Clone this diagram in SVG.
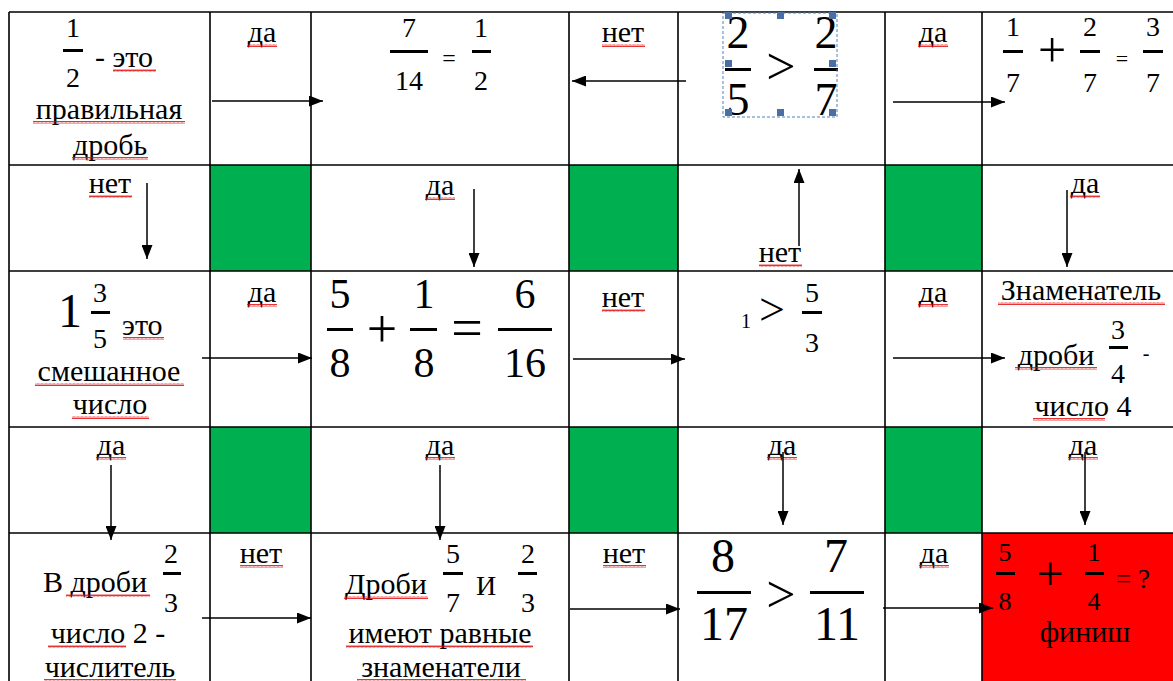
<svg xmlns="http://www.w3.org/2000/svg" width="1173" height="681" viewBox="0 0 1173 681" font-family="Liberation Serif, DejaVu Serif, Times New Roman, serif">
<style>
.t{font-size:30px;fill:#000;text-anchor:middle}
.m{fill:#000;text-anchor:middle}
.s{text-anchor:start}
.grid{stroke:#000;stroke-width:1.6;fill:none}
.conn{stroke:#000;stroke-width:1.5;fill:none;marker-end:url(#ah)}
.bar{fill:#000}
.wv{fill:url(#wave)}
.green{fill:#00B050}
.sel{fill:none;stroke:#4F81BD;stroke-width:1;stroke-dasharray:3 2}
.h{fill:#4A6FA5}
</style>
<defs>
<marker id="ah" markerWidth="14" markerHeight="11" refX="14" refY="5.5" orient="auto" markerUnits="userSpaceOnUse"><path d="M0,0 L14,5.5 L0,11 z" fill="#000"/></marker>
<pattern id="wave" width="4" height="3" patternUnits="userSpaceOnUse"><path d="M0,2.5 L1,0.5 L2,2.5 L3,0.5 L4,2.5" stroke="#E00000" stroke-width="0.8" fill="none"/></pattern>
</defs>
<rect width="1173" height="681" fill="#fff"/>
<g id="fills">
<rect class="green" x="210" y="165" width="101" height="106"/>
<rect class="green" x="569" y="165" width="109" height="106"/>
<rect class="green" x="885" y="165" width="97" height="106"/>
<rect class="green" x="210" y="427" width="101" height="106"/>
<rect class="green" x="569" y="427" width="109" height="106"/>
<rect class="green" x="885" y="427" width="97" height="106"/>
<rect x="982" y="533" width="191" height="148" fill="#FF0000"/>
</g>
<g id="grid" class="grid">
<path d="M9,12 H1173 M9,165 H1173 M9,271 H1173 M9,427 H1173 M9,533 H1173"/>
<path d="M9,12 V681 M210,12 V681 M311,12 V681 M569,12 V681 M678,12 V681 M885,12 V681 M982,12 V681"/>
</g>
<g id="n-r1c1">
<text class="m" x="73" y="37" font-size="28">1</text><rect class="bar" x="63" y="49" width="20" height="3"/><text class="m" x="73" y="87" font-size="28">2</text>
<text class="t s" x="95" y="67">- это</text><rect class="wv" x="113" y="69" width="43" height="3"/>
<text class="t" x="109" y="119">правильная</text><rect class="wv" x="33" y="121" width="152" height="3"/>
<text class="t" x="110" y="155">дробь</text><rect class="wv" x="72" y="157" width="76" height="3"/>
</g>
<g id="n-r1c3">
<text class="m" x="409" y="37" font-size="28">7</text><rect class="bar" x="390" y="50" width="38" height="3"/><text class="m" x="409" y="90" font-size="28">14</text>
<text class="m" x="449" y="66" font-size="24">=</text>
<text class="m" x="481" y="37" font-size="28">1</text><rect class="bar" x="472" y="50" width="19" height="3"/><text class="m" x="481" y="90" font-size="28">2</text>
</g>
<g id="n-r1c5">
<text class="m" x="738" y="48" font-size="46">2</text><rect class="bar" x="725" y="68" width="26" height="3"/><text class="m" x="738" y="115" font-size="46">5</text>
<text class="m" x="781" y="84" font-size="52">&gt;</text>
<text class="m" x="826" y="48" font-size="46">2</text><rect class="bar" x="814" y="68" width="24" height="3"/><text class="m" x="826" y="115" font-size="46">7</text>
<rect class="sel" x="723" y="13" width="114" height="104"/>
<rect class="h" x="725" y="12" width="7" height="7"/><rect class="h" x="777" y="12" width="7" height="7"/><rect class="h" x="829" y="12" width="7" height="7"/>
<rect class="h" x="725" y="60" width="7" height="7"/><rect class="h" x="829" y="60" width="7" height="7"/>
<rect class="h" x="725" y="109" width="7" height="7"/><rect class="h" x="777" y="109" width="7" height="7"/><rect class="h" x="829" y="109" width="7" height="7"/>
</g>
<g id="n-r1c7">
<text class="m" x="1013" y="36" font-size="28">1</text><rect class="bar" x="1003" y="50" width="20" height="3"/><text class="m" x="1013" y="92" font-size="28">7</text>
<text class="m" x="1052" y="67" font-size="50">+</text>
<text class="m" x="1090" y="36" font-size="28">2</text><rect class="bar" x="1080" y="50" width="20" height="3"/><text class="m" x="1090" y="92" font-size="28">7</text>
<text class="m" x="1122" y="66" font-size="22">=</text>
<text class="m" x="1153" y="36" font-size="28">3</text><rect class="bar" x="1143" y="50" width="20" height="3"/><text class="m" x="1153" y="92" font-size="28">7</text>
</g>
<g id="n-r3c1">
<text class="m" x="70" y="327" font-size="48">1</text>
<text class="m" x="100" y="302" font-size="28">3</text><rect class="bar" x="91" y="311" width="19" height="3"/><text class="m" x="100" y="348" font-size="28">5</text>
<text class="t s" x="122" y="335">это</text><rect class="wv" x="123" y="337" width="41" height="3"/>
<text class="t" x="109" y="381">смешанное</text><rect class="wv" x="35" y="383" width="149" height="3"/>
<text class="t" x="110" y="414">число</text><rect class="wv" x="72" y="416" width="77" height="3"/>
</g>
<g id="n-r3c3">
<text class="m" x="340" y="308" font-size="42">5</text><rect class="bar" x="327" y="328" width="26" height="3"/><text class="m" x="340" y="377" font-size="42">8</text>
<text class="m" x="382" y="347" font-size="54">+</text>
<text class="m" x="424" y="308" font-size="42">1</text><rect class="bar" x="410" y="328" width="27" height="3"/><text class="m" x="424" y="377" font-size="42">8</text>
<text class="m" x="467" y="347" font-size="56">=</text>
<text class="m" x="525" y="308" font-size="42">6</text><rect class="bar" x="498" y="328" width="54" height="3"/><text class="m" x="525" y="377" font-size="42">16</text>
</g>
<g id="n-r3c5">
<text class="m" x="746" y="328" font-size="20">1</text>
<text class="m" x="772" y="325" font-size="46">&gt;</text>
<text class="m" x="812" y="302" font-size="28">5</text><rect class="bar" x="802" y="311" width="20" height="3"/><text class="m" x="812" y="352" font-size="28">3</text>
</g>
<g id="n-r3c7">
<text class="t" x="1081" y="300">Знаменатель</text><rect class="wv" x="998" y="302" width="167" height="3"/>
<text class="t" x="1056" y="365">дроби</text><rect class="wv" x="1015" y="367" width="82" height="3"/>
<text class="m" x="1118" y="339" font-size="28">3</text><rect class="bar" x="1109" y="346" width="19" height="3"/><text class="m" x="1118" y="383" font-size="28">4</text>
<text class="m" x="1146" y="360" font-size="20">-</text>
<text class="t" x="1083" y="416">число 4</text><rect class="wv" x="1033" y="418" width="72" height="3"/>
</g>
<g id="n-r5c1">
<text class="t" x="95" y="592">В дроби</text><rect class="wv" x="66" y="594" width="84" height="3"/>
<text class="m" x="171" y="563" font-size="28">2</text><rect class="bar" x="163" y="572" width="18" height="3"/><text class="m" x="171" y="612" font-size="28">3</text>
<text class="t" x="108" y="643">число 2 -</text><rect class="wv" x="48" y="645" width="78" height="3"/>
<text class="t" x="110" y="677">числитель</text><rect class="wv" x="44" y="679" width="132" height="2"/>
</g>
<g id="n-r5c3">
<text class="t" x="386" y="594">Дроби</text><rect class="wv" x="344" y="596" width="84" height="3"/>
<text class="m" x="453" y="563" font-size="28">5</text><rect class="bar" x="443" y="572" width="20" height="3"/><text class="m" x="453" y="612" font-size="28">7</text>
<text class="m" x="486" y="595" font-size="28">И</text>
<text class="m" x="528" y="563" font-size="28">2</text><rect class="bar" x="518" y="572" width="19" height="3"/><text class="m" x="528" y="612" font-size="28">3</text>
<text class="t" x="440" y="643">имеют равные</text><rect class="wv" x="346" y="645" width="187" height="3"/>
<text class="t" x="441" y="677">знаменатели</text><rect class="wv" x="357" y="679" width="169" height="2"/>
</g>
<g id="n-r5c5">
<text class="m" x="723" y="572" font-size="48">8</text><rect class="bar" x="697" y="591" width="54" height="3"/><text class="m" x="724" y="640" font-size="48">17</text>
<text class="m" x="781" y="612" font-size="52">&gt;</text>
<text class="m" x="836" y="572" font-size="48">7</text><rect class="bar" x="810" y="591" width="54" height="3"/><text class="m" x="837" y="640" font-size="48">11</text>
</g>
<g id="n-r5c7">
<text class="m" x="1005" y="561" font-size="26">5</text><rect class="bar" x="996" y="572" width="19" height="3"/><text class="m" x="1005" y="610" font-size="26">8</text>
<text class="m" x="1050" y="590" font-size="48">+</text>
<text class="m" x="1094" y="561" font-size="26">1</text><rect class="bar" x="1085" y="572" width="19" height="3"/><text class="m" x="1094" y="610" font-size="26">4</text>
<text class="m s" x="1116" y="588" font-size="27">= ?</text>
<text class="t" x="1085" y="642">финиш</text>
</g>
<g id="labels">
<text class="t" x="262" y="42">да</text><rect class="wv" x="247" y="44" width="30" height="3"/>
<text class="t" x="623" y="42">нет</text><rect class="wv" x="602" y="44" width="43" height="3"/>
<text class="t" x="933" y="42">да</text><rect class="wv" x="918" y="44" width="30" height="3"/>
<text class="t" x="110" y="193">нет</text><rect class="wv" x="89" y="195" width="43" height="3"/>
<text class="t" x="440" y="195">да</text><rect class="wv" x="425" y="197" width="30" height="3"/>
<text class="t" x="780" y="262">нет</text><rect class="wv" x="759" y="264" width="43" height="3"/>
<text class="t" x="1085" y="193">да</text><rect class="wv" x="1070" y="195" width="30" height="3"/>
<text class="t" x="262" y="302">да</text><rect class="wv" x="247" y="304" width="30" height="3"/>
<text class="t" x="623" y="307">нет</text><rect class="wv" x="602" y="309" width="43" height="3"/>
<text class="t" x="933" y="302">да</text><rect class="wv" x="918" y="304" width="30" height="3"/>
<text class="t" x="111" y="455">да</text><rect class="wv" x="96" y="457" width="30" height="3"/>
<text class="t" x="440" y="455">да</text><rect class="wv" x="425" y="457" width="30" height="3"/>
<text class="t" x="782" y="455">да</text><rect class="wv" x="767" y="457" width="30" height="3"/>
<text class="t" x="1083" y="455">да</text><rect class="wv" x="1068" y="457" width="30" height="3"/>
<text class="t" x="261" y="563">нет</text><rect class="wv" x="240" y="565" width="43" height="3"/>
<text class="t" x="624" y="563">нет</text><rect class="wv" x="603" y="565" width="43" height="3"/>
<text class="t" x="934" y="563">да</text><rect class="wv" x="919" y="565" width="30" height="3"/>
</g>
<g id="connectors" class="conn">
<path d="M212,101 H323"/>
<path d="M686,81 H572"/>
<path d="M893,102 H1005"/>
<path d="M147,183 V259"/>
<path d="M474,189 V267"/>
<path d="M799,246 V169"/>
<path d="M1067,190 V267"/>
<path d="M202,358 H312"/>
<path d="M573,359 H685"/>
<path d="M893,358 H1005"/>
<path d="M111,465 V540"/>
<path d="M440,465 V540"/>
<path d="M783,452 V525"/>
<path d="M1085,452 V525"/>
<path d="M202,618 H311"/>
<path d="M570,609 H680"/>
<path d="M883,608 H993"/>
</g>
</svg>
